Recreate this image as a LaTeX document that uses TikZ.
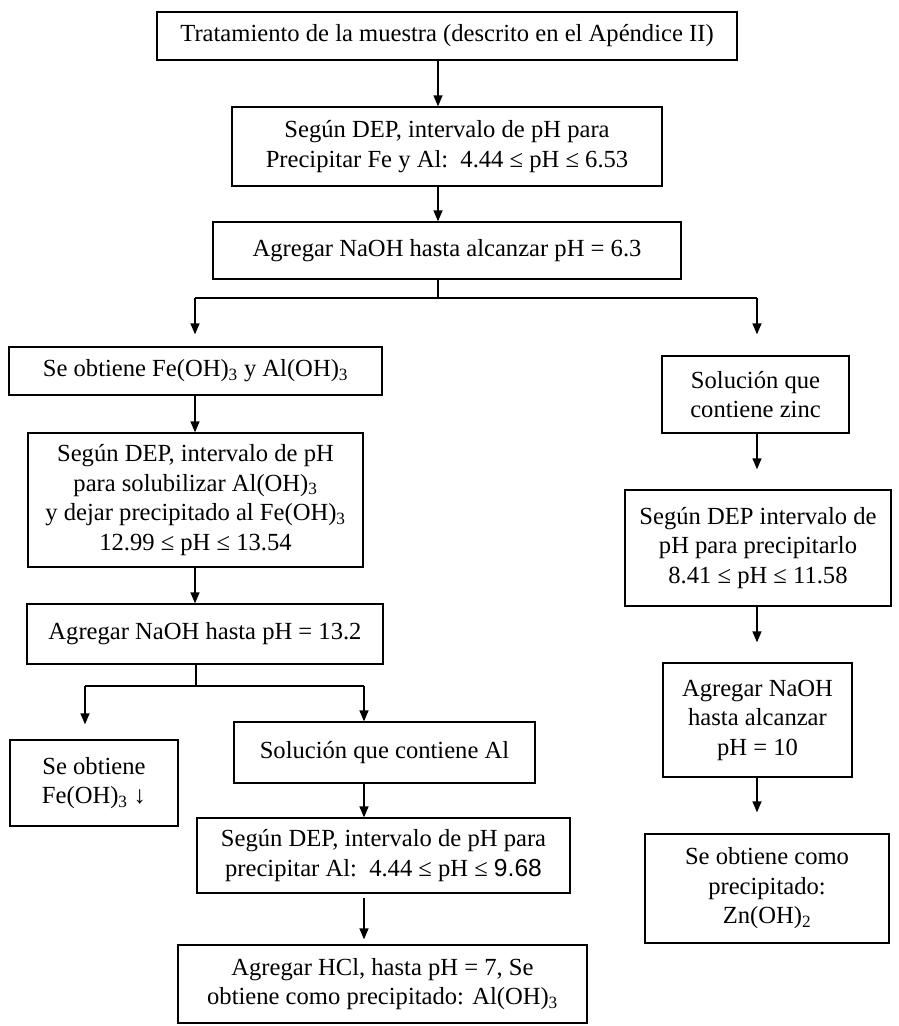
\documentclass[tikz,border=0pt]{standalone}
\usepackage{fontspec}
\setmainfont{Liberation Serif}
\newfontfamily\arialf{Liberation Sans}
\usetikzlibrary{arrows.meta}
\begin{document}
\begin{tikzpicture}[x=1pt,y=-1pt,
  box/.style={draw, line width=1.3pt, align=center, inner sep=0pt,
    font=\fontsize{24.6}{29.5}\selectfont},
  arr/.style={line width=1.3pt, -{Triangle[length=11pt,width=9pt]}},
  ln/.style={line width=1.3pt}]
\useasboundingbox (0,0) rectangle (899,1026);
\fill[white] (0,0) rectangle (899,1026);
\clip (0,0) rectangle (899,1026);

% main column
\node[box, minimum width=580pt, minimum height=48pt] (b1) at (447,36)
  {Tratamiento de la muestra (descrito en el Apéndice II)};
\node[box, minimum width=430pt, minimum height=79pt] (b2) at (447,146.5)
  {Según DEP, intervalo de pH para\\Precipitar Fe y Al:\ \ 4.44 ≤ pH ≤ 6.53};
\node[box, minimum width=468pt, minimum height=57pt] (b3) at (447,250.5)
  {Agregar NaOH hasta alcanzar pH = 6.3};

% left branch
\node[box, minimum width=373pt, minimum height=48pt] (fa) at (195.5,371)
  {Se obtiene Fe(OH)\textsubscript{3} y Al(OH)\textsubscript{3}};
\node[box, minimum width=335pt, minimum height=134pt] (d2) at (195.5,500)
  {Según DEP, intervalo de pH\\para solubilizar Al(OH)\textsubscript{3}\\y dejar precipitado al Fe(OH)\textsubscript{3}\\12.99 ≤ pH ≤ 13.54};
\node[box, minimum width=356pt, minimum height=60pt] (n13) at (205,634)
  {Agregar NaOH hasta pH = 13.2};
\node[box, minimum width=168pt, minimum height=86pt] (fe) at (94,783)
  {Se obtiene\\Fe(OH)\textsubscript{3} ↓};
\node[box, minimum width=301pt, minimum height=61pt] (al) at (384.5,752.5)
  {Solución que contiene Al};
\node[box, minimum width=373pt, minimum height=75pt] (d3) at (383.5,855.5)
  {Según DEP, intervalo de pH para\\precipitar Al:\ \ 4.44 ≤ pH ≤ {\arialf 9.68}};
\node[box, minimum width=409pt, minimum height=78pt] (hcl) at (382.5,984)
  {Agregar HCl, hasta pH = 7, Se\\obtiene como precipitado: Al(OH)\textsubscript{3}};

% right branch
\node[box, minimum width=187pt, minimum height=77pt] (zn) at (755.5,394.5)
  {Solución que\\contiene zinc};
\node[box, minimum width=266pt, minimum height=116pt] (dz) at (758,548)
  {Según DEP intervalo de\\pH para precipitarlo\\8.41 ≤ pH ≤ 11.58};
\node[box, minimum width=189pt, minimum height=114pt] (n10) at (757.5,720)
  {Agregar NaOH\\hasta alcanzar\\pH = 10};
\node[box, minimum width=244pt, minimum height=109pt] (zo) at (767,888.5)
  {Se obtiene como\\precipitado:\\Zn(OH)\textsubscript{2}};

% connectors main column
\coordinate (cx) at (438,0);
\draw[arr] (cx |- b1.south) -- (cx |- b2.north);
\draw[arr] (cx |- b2.south) -- (cx |- b3.north);
\coordinate (s1) at (438,298);
\coordinate (sL) at (195,298);
\coordinate (sR) at (757,298);
\draw[ln] (cx |- b3.south) -- (s1);
\draw[ln] (sL) -- (sR);
\draw[arr, shorten >=12pt] (sL) -- (sL |- fa.north);
\draw[arr, shorten >=21pt] (sR) -- (sR |- zn.north);

% left branch connectors
\draw[arr] (sL |- fa.south) -- (sL |- d2.north);
\draw[arr] (sL |- d2.south) -- (sL |- n13.north);
\coordinate (t1) at (196,686);
\coordinate (tL) at (85,686);
\coordinate (tR) at (364,686);
\draw[ln] (t1 |- n13.south) -- (t1);
\draw[ln] (tL) -- (tR);
\draw[arr, shorten >=15pt] (tL) -- (tL |- fe.north);
\draw[arr] (tR) -- (tR |- al.north);
\draw[arr] (tR |- al.south) -- (tR |- d3.north);
\draw[arr, shorten <=4pt, shorten >=5pt] (tR |- d3.south) -- (tR |- hcl.north);

% right branch connectors
\draw[arr, shorten >=20pt] (sR |- zn.south) -- (sR |- dz.north);
\draw[arr, shorten >=20pt] (sR |- dz.south) -- (sR |- n10.north);
\draw[arr, shorten >=21pt] (sR |- n10.south) -- (sR |- zo.north);
\end{tikzpicture}
\end{document}
